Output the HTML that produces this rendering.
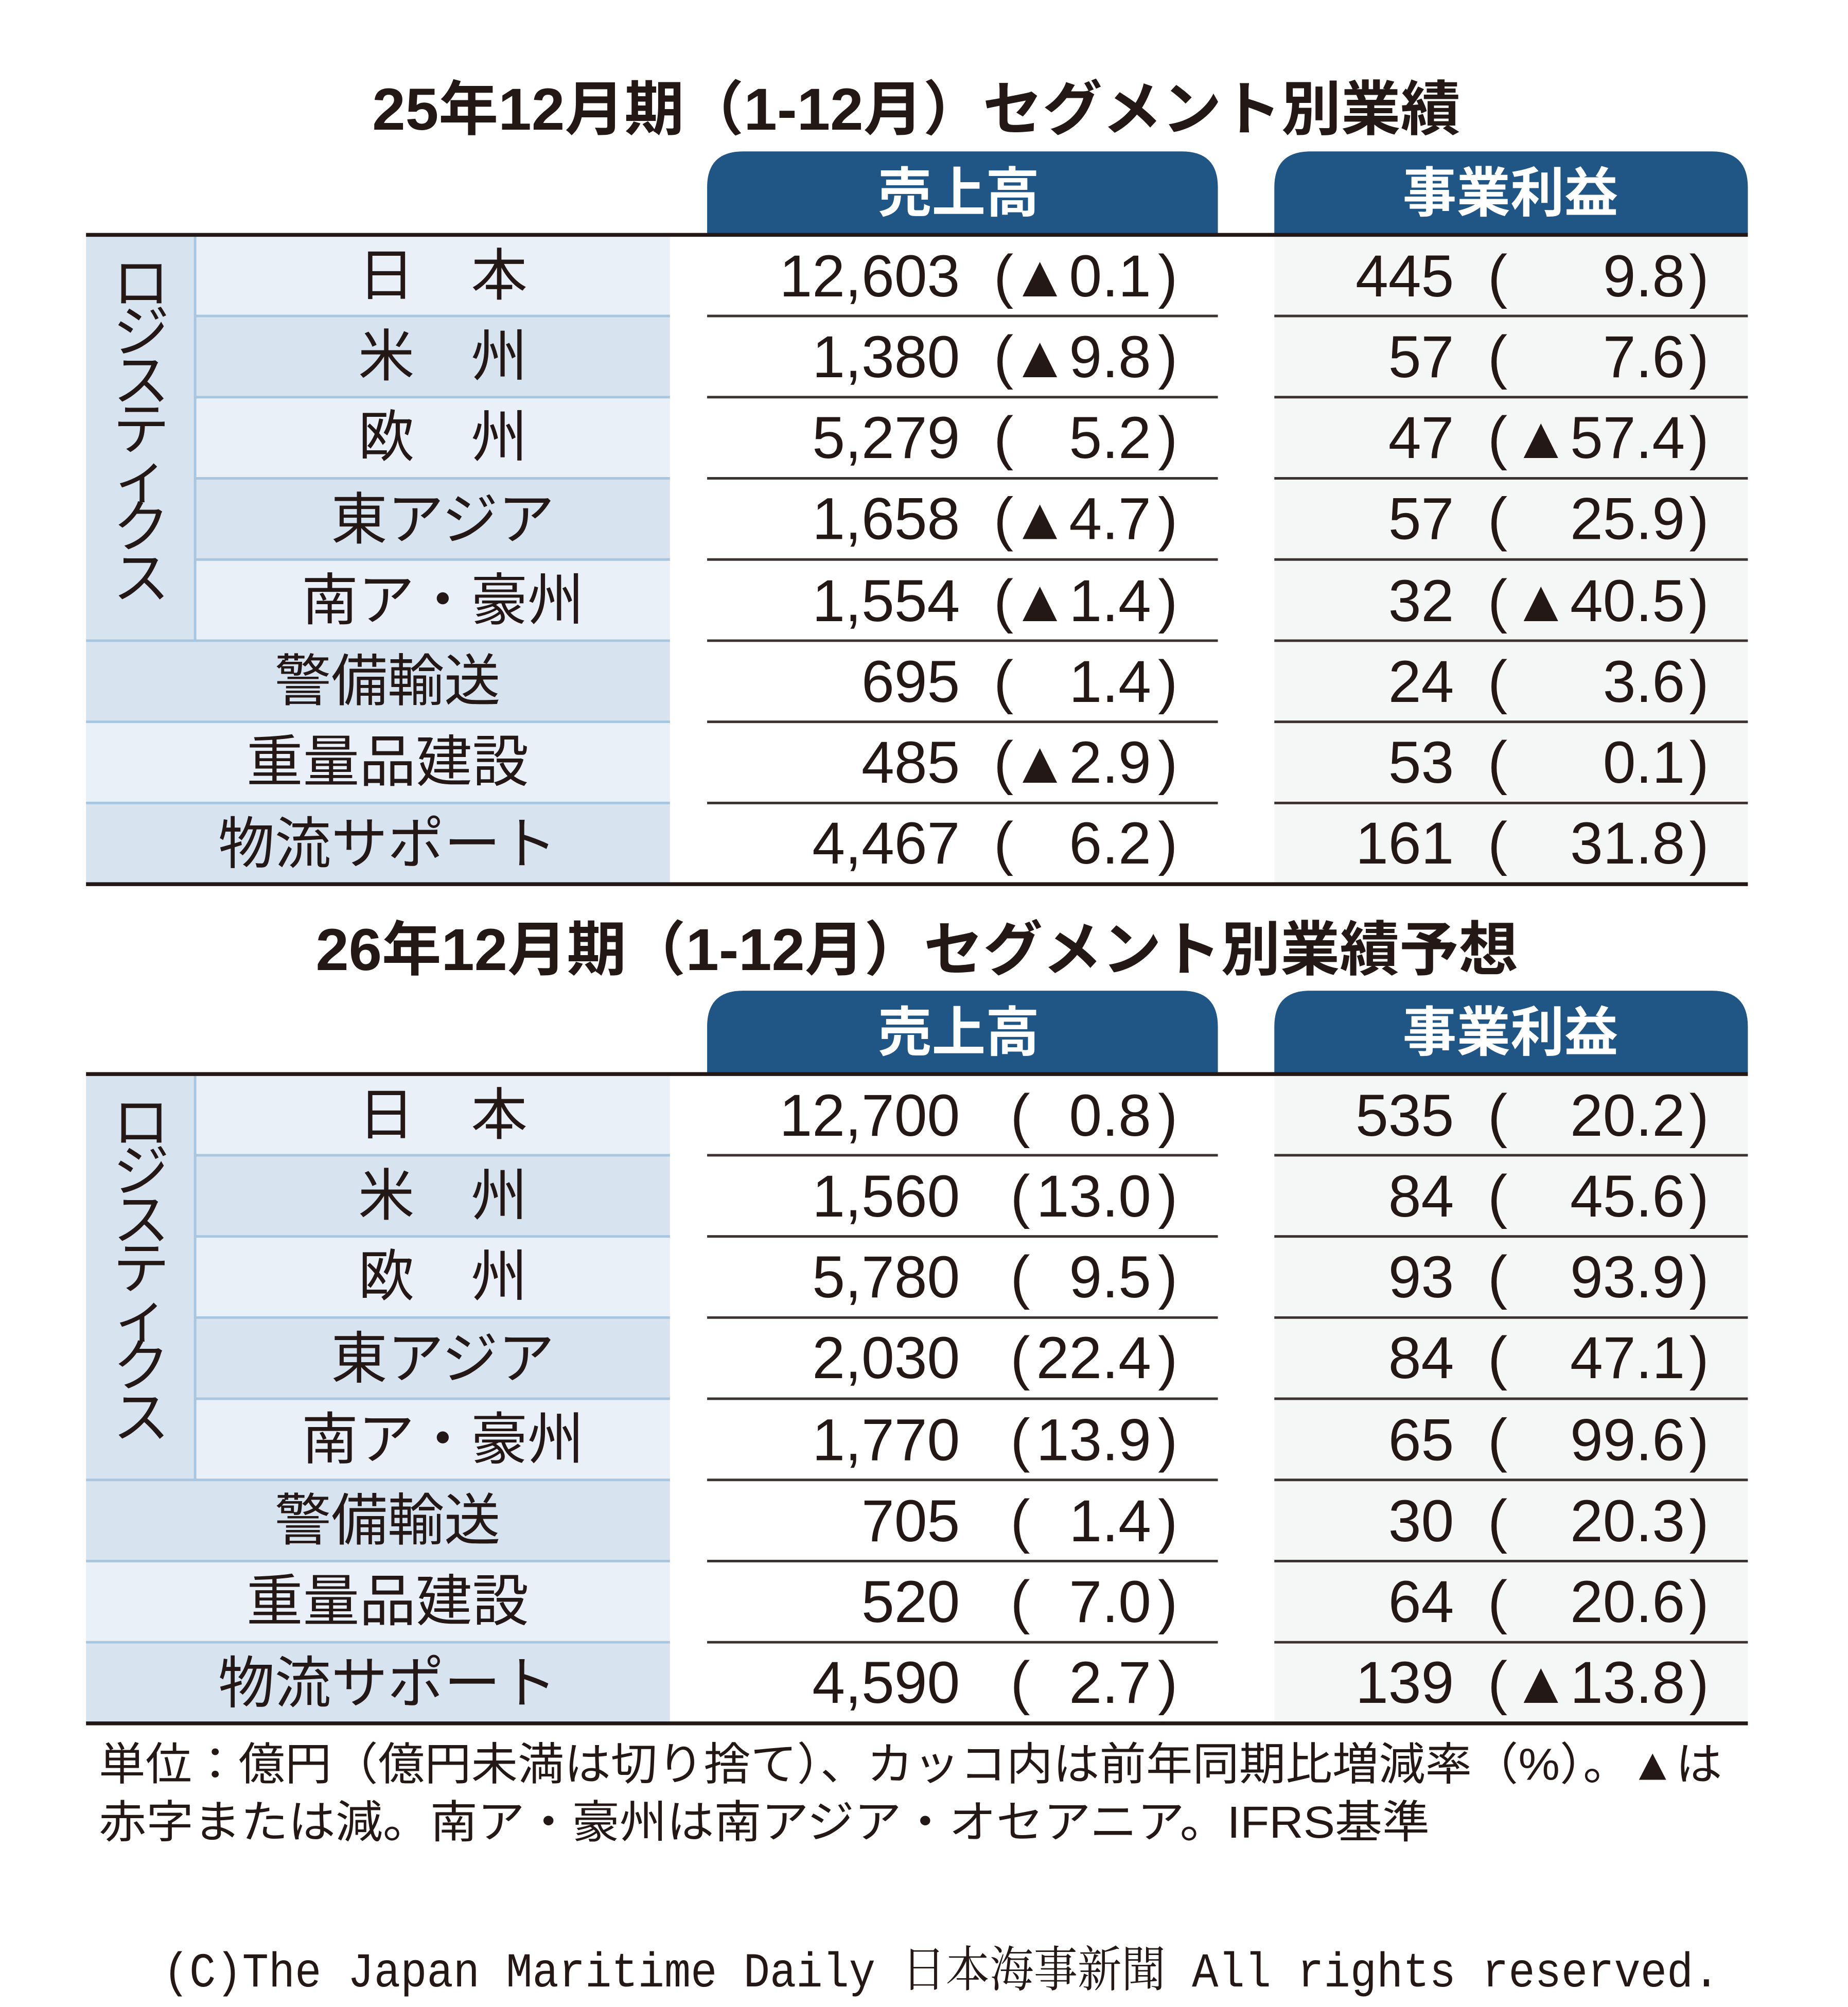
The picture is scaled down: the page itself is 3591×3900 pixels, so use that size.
<!DOCTYPE html>
<html><head><meta charset="utf-8">
<style>
html,body{margin:0;padding:0;background:#fff;}
svg{display:block;}
.t{font-family:"Liberation Sans","Noto Sans CJK JP",sans-serif;font-weight:bold;fill:#231815;}
.tab{font-family:"Liberation Sans","Noto Sans CJK JP",sans-serif;font-weight:bold;fill:#fff;font-size:42px;}
.lb{font-family:"Liberation Sans","Noto Sans CJK JP",sans-serif;fill:#231815;font-size:44px;}
.n{font-family:"Liberation Sans","DejaVu Sans",sans-serif;fill:#231815;font-size:46px;}
.note{font-family:"Liberation Sans","Noto Sans CJK JP",sans-serif;fill:#231815;font-size:35px;}
.cp{font-family:"Liberation Mono","Noto Serif CJK SC",monospace;fill:#231815;font-size:38px;}
</style></head>
<body>
<svg width="3591" height="3900" viewBox="0 0 1440 1564" xmlns="http://www.w3.org/2000/svg">
<rect width="1440" height="1564" fill="#fff"/>

<!-- TABLE 1 -->
<g id="t1">
<text class="t" x="290" y="101" font-size="46" textLength="848" lengthAdjust="spacingAndGlyphs">25年12月期（1‑12月）セグメント別業績</text>
<path d="M551 182 V146 Q551 118 579 118 H921 Q949 118 949 146 V182 Z" fill="#1f5686"/>
<path d="M993 182 V146 Q993 118 1021 118 H1334 Q1362 118 1362 146 V182 Z" fill="#1f5686"/>
<text class="tab" x="747" y="165" text-anchor="middle">売上高</text>
<text class="tab" x="1177" y="165" text-anchor="middle">事業利益</text>
<!-- left backgrounds -->
<rect x="67" y="183" width="85" height="316" fill="#d7e4f0"/>
<rect x="152" y="183" width="370" height="63.25" fill="#eaf0f7"/>
<rect x="152" y="246.25" width="370" height="63.25" fill="#d7e4f0"/>
<rect x="152" y="309.5" width="370" height="63.25" fill="#eaf0f7"/>
<rect x="152" y="372.75" width="370" height="63.25" fill="#d7e4f0"/>
<rect x="152" y="436" width="370" height="63.25" fill="#eaf0f7"/>
<rect x="67" y="499.25" width="455" height="63.25" fill="#d7e4f0"/>
<rect x="67" y="562.5" width="455" height="63.25" fill="#eaf0f7"/>
<rect x="67" y="625.75" width="455" height="63.25" fill="#d7e4f0"/>
<rect x="993" y="183" width="369" height="506" fill="#f5f6f6"/>
<g stroke="#a9c6e0" stroke-width="2">
<line x1="152" y1="246.25" x2="522" y2="246.25"/><line x1="152" y1="309.5" x2="522" y2="309.5"/>
<line x1="152" y1="372.75" x2="522" y2="372.75"/><line x1="152" y1="436" x2="522" y2="436"/>
<line x1="67" y1="499.25" x2="522" y2="499.25"/><line x1="67" y1="562.5" x2="522" y2="562.5"/>
<line x1="67" y1="625.75" x2="522" y2="625.75"/><line x1="152" y1="183" x2="152" y2="499"/>
</g>
<g stroke="#3a3331" stroke-width="2">
<line x1="551" y1="246.25" x2="949" y2="246.25"/><line x1="551" y1="309.5" x2="949" y2="309.5"/>
<line x1="551" y1="372.75" x2="949" y2="372.75"/><line x1="551" y1="436" x2="949" y2="436"/>
<line x1="551" y1="499.25" x2="949" y2="499.25"/><line x1="551" y1="562.5" x2="949" y2="562.5"/>
<line x1="551" y1="625.75" x2="949" y2="625.75"/>
<line x1="993" y1="246.25" x2="1362" y2="246.25"/><line x1="993" y1="309.5" x2="1362" y2="309.5"/>
<line x1="993" y1="372.75" x2="1362" y2="372.75"/><line x1="993" y1="436" x2="1362" y2="436"/>
<line x1="993" y1="499.25" x2="1362" y2="499.25"/><line x1="993" y1="562.5" x2="1362" y2="562.5"/>
<line x1="993" y1="625.75" x2="1362" y2="625.75"/>
</g>
<line x1="67" y1="183" x2="1362" y2="183" stroke="#231815" stroke-width="3"/>
<line x1="67" y1="689" x2="1362" y2="689" stroke="#231815" stroke-width="3"/>
<!-- vertical label -->
<g class="lb" font-size="40" text-anchor="middle">
<text x="110" y="236">ロ</text><text x="110" y="274">ジ</text><text x="110" y="312">ス</text>
<text x="110" y="350">テ</text><text x="110" y="388">ィ</text><text x="110" y="426">ク</text><text x="110" y="466">ス</text>
</g>
<g class="lb" text-anchor="middle">
<text x="345" y="230">日　本</text>
<text x="345" y="293">米　州</text>
<text x="345" y="356">欧　州</text>
<text x="345" y="420">東アジア</text>
<text x="345" y="483">南ア・豪州</text>
<text x="302" y="546">警備輸送</text>
<text x="302" y="609">重量品建設</text>
<text x="302" y="673">物流サポート</text>
</g>
<g class="n">
<g text-anchor="end">
<text x="748" y="231">12,603</text><text x="748" y="294">1,380</text><text x="748" y="357">5,279</text>
<text x="748" y="420">1,658</text><text x="748" y="484">1,554</text><text x="748" y="547">695</text>
<text x="748" y="610">485</text><text x="748" y="673">4,467</text>
<text x="897" y="231">▲0.1</text><text x="897" y="294">▲9.8</text><text x="897" y="357">5.2</text>
<text x="897" y="420">▲4.7</text><text x="897" y="484">▲1.4</text><text x="897" y="547">1.4</text>
<text x="897" y="610">▲2.9</text><text x="897" y="673">6.2</text>
<text x="1133" y="231">445</text><text x="1133" y="294">57</text><text x="1133" y="357">47</text>
<text x="1133" y="420">57</text><text x="1133" y="484">32</text><text x="1133" y="547">24</text>
<text x="1133" y="610">53</text><text x="1133" y="673">161</text>
<text x="1313" y="231">9.8</text><text x="1313" y="294">7.6</text><text x="1313" y="357">▲57.4</text>
<text x="1313" y="420">25.9</text><text x="1313" y="484">▲40.5</text><text x="1313" y="547">3.6</text>
<text x="1313" y="610">0.1</text><text x="1313" y="673">31.8</text>
</g>
<g text-anchor="middle">
<text x="782" y="231">(</text><text x="910" y="231">)</text><text x="1167" y="231">(</text><text x="1324" y="231">)</text>
<text x="782" y="294">(</text><text x="910" y="294">)</text><text x="1167" y="294">(</text><text x="1324" y="294">)</text>
<text x="782" y="357">(</text><text x="910" y="357">)</text><text x="1167" y="357">(</text><text x="1324" y="357">)</text>
<text x="782" y="420">(</text><text x="910" y="420">)</text><text x="1167" y="420">(</text><text x="1324" y="420">)</text>
<text x="782" y="484">(</text><text x="910" y="484">)</text><text x="1167" y="484">(</text><text x="1324" y="484">)</text>
<text x="782" y="547">(</text><text x="910" y="547">)</text><text x="1167" y="547">(</text><text x="1324" y="547">)</text>
<text x="782" y="610">(</text><text x="910" y="610">)</text><text x="1167" y="610">(</text><text x="1324" y="610">)</text>
<text x="782" y="673">(</text><text x="910" y="673">)</text><text x="1167" y="673">(</text><text x="1324" y="673">)</text>
</g>
</g>
</g>

<!-- TABLE 2 -->
<g transform="translate(0,654)">
<text class="t" x="246" y="102" font-size="46" textLength="937" lengthAdjust="spacingAndGlyphs">26年12月期（1‑12月）セグメント別業績予想</text>
<path d="M551 182 V146 Q551 118 579 118 H921 Q949 118 949 146 V182 Z" fill="#1f5686"/>
<path d="M993 182 V146 Q993 118 1021 118 H1334 Q1362 118 1362 146 V182 Z" fill="#1f5686"/>
<text class="tab" x="747" y="165" text-anchor="middle">売上高</text>
<text class="tab" x="1177" y="165" text-anchor="middle">事業利益</text>
<rect x="67" y="183" width="85" height="316" fill="#d7e4f0"/>
<rect x="152" y="183" width="370" height="63.25" fill="#eaf0f7"/>
<rect x="152" y="246.25" width="370" height="63.25" fill="#d7e4f0"/>
<rect x="152" y="309.5" width="370" height="63.25" fill="#eaf0f7"/>
<rect x="152" y="372.75" width="370" height="63.25" fill="#d7e4f0"/>
<rect x="152" y="436" width="370" height="63.25" fill="#eaf0f7"/>
<rect x="67" y="499.25" width="455" height="63.25" fill="#d7e4f0"/>
<rect x="67" y="562.5" width="455" height="63.25" fill="#eaf0f7"/>
<rect x="67" y="625.75" width="455" height="63.25" fill="#d7e4f0"/>
<rect x="993" y="183" width="369" height="506" fill="#f5f6f6"/>
<g stroke="#a9c6e0" stroke-width="2">
<line x1="152" y1="246.25" x2="522" y2="246.25"/><line x1="152" y1="309.5" x2="522" y2="309.5"/>
<line x1="152" y1="372.75" x2="522" y2="372.75"/><line x1="152" y1="436" x2="522" y2="436"/>
<line x1="67" y1="499.25" x2="522" y2="499.25"/><line x1="67" y1="562.5" x2="522" y2="562.5"/>
<line x1="67" y1="625.75" x2="522" y2="625.75"/><line x1="152" y1="183" x2="152" y2="499"/>
</g>
<g stroke="#3a3331" stroke-width="2">
<line x1="551" y1="246.25" x2="949" y2="246.25"/><line x1="551" y1="309.5" x2="949" y2="309.5"/>
<line x1="551" y1="372.75" x2="949" y2="372.75"/><line x1="551" y1="436" x2="949" y2="436"/>
<line x1="551" y1="499.25" x2="949" y2="499.25"/><line x1="551" y1="562.5" x2="949" y2="562.5"/>
<line x1="551" y1="625.75" x2="949" y2="625.75"/>
<line x1="993" y1="246.25" x2="1362" y2="246.25"/><line x1="993" y1="309.5" x2="1362" y2="309.5"/>
<line x1="993" y1="372.75" x2="1362" y2="372.75"/><line x1="993" y1="436" x2="1362" y2="436"/>
<line x1="993" y1="499.25" x2="1362" y2="499.25"/><line x1="993" y1="562.5" x2="1362" y2="562.5"/>
<line x1="993" y1="625.75" x2="1362" y2="625.75"/>
</g>
<line x1="67" y1="183" x2="1362" y2="183" stroke="#231815" stroke-width="3"/>
<line x1="67" y1="689" x2="1362" y2="689" stroke="#231815" stroke-width="3"/>
<g class="lb" font-size="40" text-anchor="middle">
<text x="110" y="236">ロ</text><text x="110" y="274">ジ</text><text x="110" y="312">ス</text>
<text x="110" y="350">テ</text><text x="110" y="388">ィ</text><text x="110" y="426">ク</text><text x="110" y="466">ス</text>
</g>
<g class="lb" text-anchor="middle">
<text x="345" y="230">日　本</text>
<text x="345" y="293">米　州</text>
<text x="345" y="356">欧　州</text>
<text x="345" y="420">東アジア</text>
<text x="345" y="483">南ア・豪州</text>
<text x="302" y="546">警備輸送</text>
<text x="302" y="609">重量品建設</text>
<text x="302" y="673">物流サポート</text>
</g>
<g class="n">
<g text-anchor="end">
<text x="748" y="231">12,700</text><text x="748" y="294">1,560</text><text x="748" y="357">5,780</text>
<text x="748" y="420">2,030</text><text x="748" y="484">1,770</text><text x="748" y="547">705</text>
<text x="748" y="610">520</text><text x="748" y="673">4,590</text>
<text x="897" y="231">0.8</text><text x="897" y="294">13.0</text><text x="897" y="357">9.5</text>
<text x="897" y="420">22.4</text><text x="897" y="484">13.9</text><text x="897" y="547">1.4</text>
<text x="897" y="610">7.0</text><text x="897" y="673">2.7</text>
<text x="1133" y="231">535</text><text x="1133" y="294">84</text><text x="1133" y="357">93</text>
<text x="1133" y="420">84</text><text x="1133" y="484">65</text><text x="1133" y="547">30</text>
<text x="1133" y="610">64</text><text x="1133" y="673">139</text>
<text x="1313" y="231">20.2</text><text x="1313" y="294">45.6</text><text x="1313" y="357">93.9</text>
<text x="1313" y="420">47.1</text><text x="1313" y="484">99.6</text><text x="1313" y="547">20.3</text>
<text x="1313" y="610">20.6</text><text x="1313" y="673">▲13.8</text>
</g>
<g text-anchor="middle">
<text x="795" y="231">(</text><text x="910" y="231">)</text><text x="1167" y="231">(</text><text x="1324" y="231">)</text>
<text x="795" y="294">(</text><text x="910" y="294">)</text><text x="1167" y="294">(</text><text x="1324" y="294">)</text>
<text x="795" y="357">(</text><text x="910" y="357">)</text><text x="1167" y="357">(</text><text x="1324" y="357">)</text>
<text x="795" y="420">(</text><text x="910" y="420">)</text><text x="1167" y="420">(</text><text x="1324" y="420">)</text>
<text x="795" y="484">(</text><text x="910" y="484">)</text><text x="1167" y="484">(</text><text x="1324" y="484">)</text>
<text x="795" y="547">(</text><text x="910" y="547">)</text><text x="1167" y="547">(</text><text x="1324" y="547">)</text>
<text x="795" y="610">(</text><text x="910" y="610">)</text><text x="1167" y="610">(</text><text x="1324" y="610">)</text>
<text x="795" y="673">(</text><text x="910" y="673">)</text><text x="1167" y="673">(</text><text x="1324" y="673">)</text>
</g>
</g>
</g>

<!-- notes -->
<text class="note" x="77" y="1387" textLength="1265" lengthAdjust="spacingAndGlyphs">単位：億円（億円未満は切り捨て）、カッコ内は前年同期比増減率（%）。▲は</text>
<text class="note" x="77" y="1432" textLength="1037" lengthAdjust="spacingAndGlyphs">赤字または減。南ア・豪州は南アジア・オセアニア。IFRS基準</text>
<text class="cp" x="127" y="1548" textLength="1213" lengthAdjust="spacingAndGlyphs">(C)The Japan Maritime Daily 日本海事新聞 All rights reserved.</text>
</svg>
</body></html>
